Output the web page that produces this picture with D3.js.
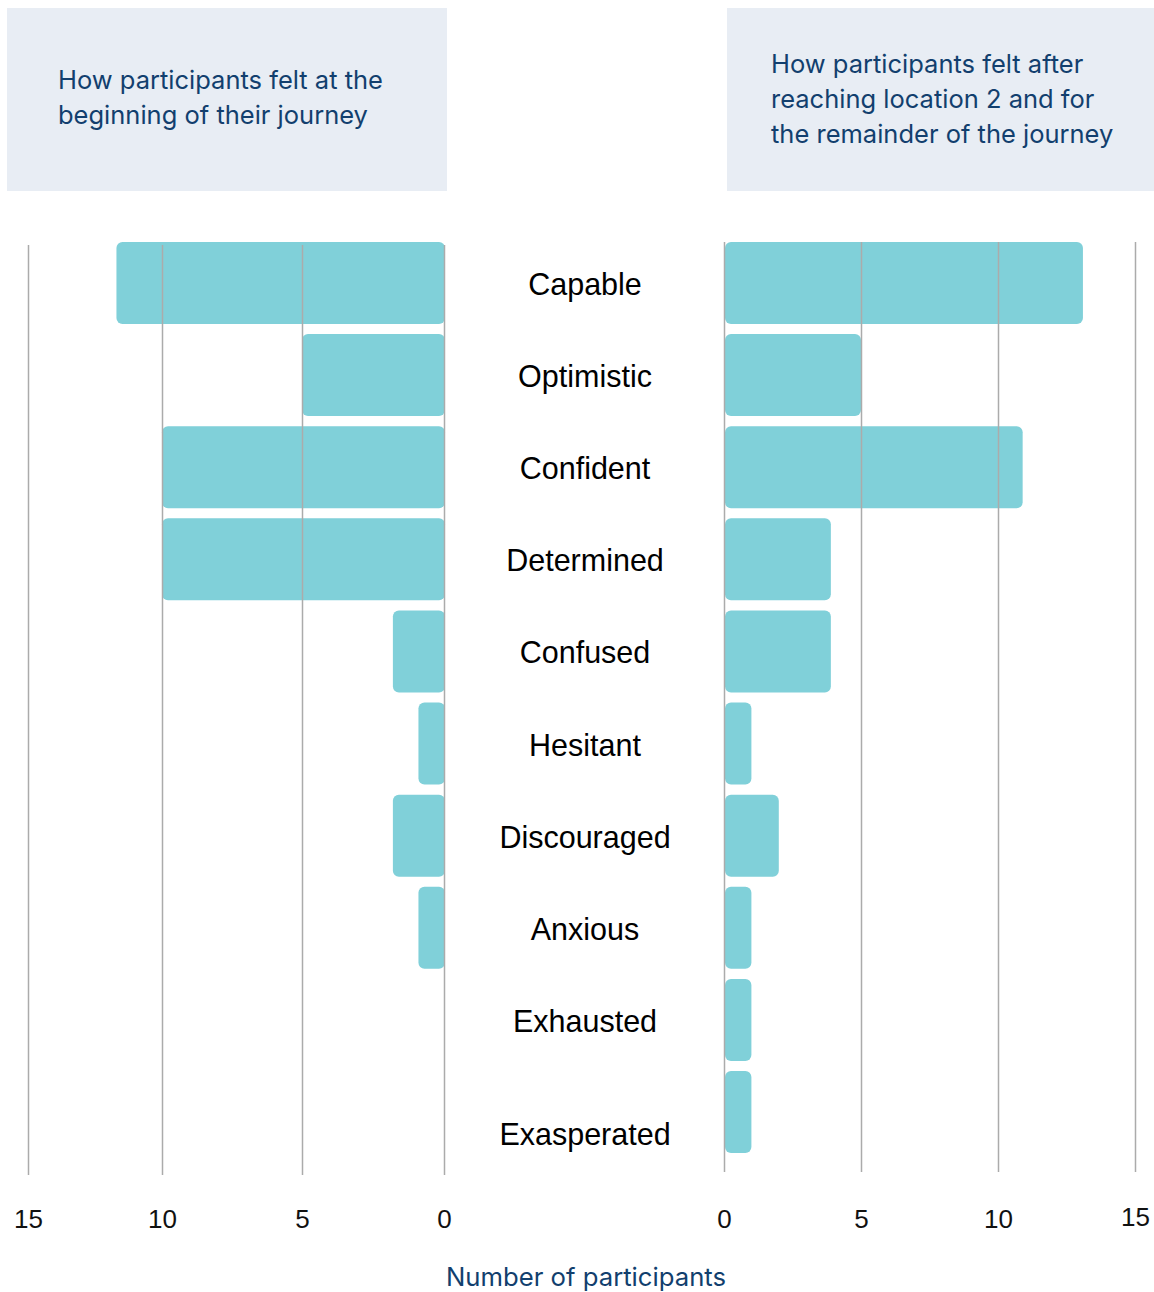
<!DOCTYPE html>
<html>
<head>
<meta charset="utf-8">
<script src="https://cdn.jsdelivr.net/npm/d3@7"></script>
<style>
  html, body { margin: 0; padding: 0; background: #ffffff; }
  svg { display: block; }
</style>
</head>
<body>
<svg id="chart" width="1154" height="1292"></svg>
<script>
// ---- data ----
const categories = ["Capable", "Optimistic", "Confident", "Determined", "Confused",
  "Hesitant", "Discouraged", "Anxious", "Exhausted", "Exasperated"];
const beforeValues = [11.7, 5.0, 10.0, 10.0, 1.8, 0.9, 1.8, 0.9, 0, 0];
const afterValues = [13.1, 5.0, 10.9, 3.9, 3.9, 1.0, 2.0, 1.0, 1.0, 1.0];
const tickValues = [0, 5, 10, 15];
const leftTitle = ["How participants felt at the", "beginning of their journey"];
const rightTitle = ["How participants felt after", "reaching location 2 and for", "the remainder of the journey"];
const axisTitle = "Number of participants";

// ---- styles ----
const barColor = "#80d0d9";
const gridColor = "#ababab";
const navy = "#123f6e";
const boxFill = "#e8edf4";
const headFont = "Inter, 'Open Sans', sans-serif";
const labelFont = "'Liberation Sans', Arial, sans-serif";

const svg = d3.select("#chart");

// scales
const xLeft = d3.scaleLinear().domain([0, 5, 10, 15]).range([444, 302, 162, 28]);
const xRight = d3.scaleLinear().domain([0, 15]).range([724, 1135]);
const y = d3.scaleBand().domain(categories).range([242, 1153]).paddingInner(0.11).paddingOuter(0);

// header boxes
svg.append("rect").attr("x", 7).attr("y", 8).attr("width", 440).attr("height", 183).attr("fill", boxFill);
svg.append("rect").attr("x", 727).attr("y", 8).attr("width", 427).attr("height", 183).attr("fill", boxFill);

const lt = svg.append("text").attr("font-family", headFont).attr("font-size", 25.5).attr("fill", navy);
leftTitle.forEach((t, i) => lt.append("tspan").attr("x", 58).attr("y", 89 + i * 35).text(t));
const rt = svg.append("text").attr("font-family", headFont).attr("font-size", 25.5).attr("fill", navy);
rightTitle.forEach((t, i) => rt.append("tspan").attr("x", 771).attr("y", 73 + i * 35).text(t));

// bars
const rows = categories.map((c, i) => ({ c, b: beforeValues[i], a: afterValues[i] }));

svg.append("g").selectAll("rect").data(rows.filter(d => d.b > 0)).join("rect")
  .attr("x", d => xLeft(d.b))
  .attr("y", d => y(d.c))
  .attr("width", d => xLeft(0) - xLeft(d.b) + 1)
  .attr("height", y.bandwidth())
  .attr("rx", 6).attr("ry", 6)
  .attr("fill", barColor);

svg.append("g").selectAll("rect").data(rows.filter(d => d.a > 0)).join("rect")
  .attr("x", xRight(0) + 1)
  .attr("y", d => y(d.c))
  .attr("width", d => xRight(d.a) - xRight(0) - 1)
  .attr("height", y.bandwidth())
  .attr("rx", 6).attr("ry", 6)
  .attr("fill", barColor);

// grid lines (drawn over bars)
const leftAxis = d3.axisBottom(xLeft).tickValues(tickValues).tickSize(-930).tickFormat(d3.format("d")).tickPadding(35);
const gL = svg.append("g").attr("transform", "translate(0,1175)").call(leftAxis);
const rightAxis = d3.axisBottom(xRight).tickValues(tickValues).tickSize(-930).tickFormat(d3.format("d")).tickPadding(38);
const gR = svg.append("g").attr("transform", "translate(0,1172)").call(rightAxis);
[gL, gR].forEach(g => {
  g.select(".domain").remove();
  g.selectAll(".tick line").attr("stroke", gridColor).attr("stroke-width", 1.5);
  g.selectAll(".tick text").attr("font-family", labelFont).attr("font-size", 26).attr("fill", "#111");
});
gR.selectAll(".tick text").filter(d => d === 15).attr("dy", "0.6em");

// category labels
svg.append("g").selectAll("text").data(categories).join("text")
  .attr("x", 585)
  .attr("y", (d, i) => y(d) + y.bandwidth() / 2 + (i === categories.length - 1 ? 22 : 1))
  .attr("text-anchor", "middle")
  .attr("dominant-baseline", "central")
  .attr("font-family", labelFont)
  .attr("font-size", 30.5)
  .attr("fill", "#000")
  .text(d => d);

// axis title
svg.append("text").attr("x", 586).attr("y", 1286).attr("text-anchor", "middle")
  .attr("font-family", headFont).attr("font-size", 25.7).attr("fill", navy).text(axisTitle);
</script>
</body>
</html>
